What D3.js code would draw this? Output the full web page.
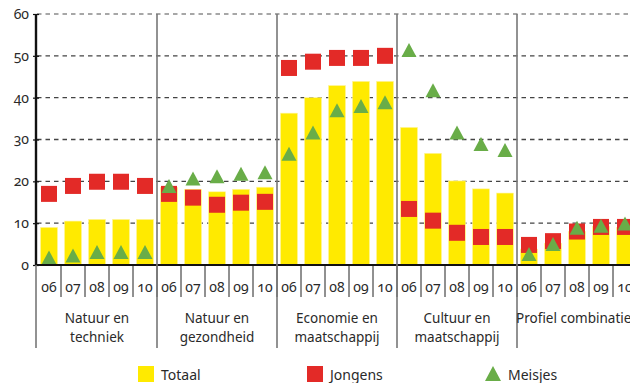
<!DOCTYPE html>
<html><head><meta charset="utf-8">
<script src="https://cdn.jsdelivr.net/npm/d3@7"></script>
<style>
html,body{margin:0;padding:0;background:#fff;overflow:hidden}
svg{display:block}
text{font-family:"Noto Sans","Open Sans",sans-serif;fill:#2a2a2a;font-variant-numeric:oldstyle-nums;font-feature-settings:"onum" 1}
</style></head>
<body>
<svg id="chart" width="630" height="383"></svg>
<script>
const groups = [["Natuur en","techniek"],["Natuur en","gezondheid"],["Economie en","maatschappij"],["Cultuur en","maatschappij"],["Profiel combinaties"]];
const years = ["06","07","08","09","10"];
const yTicks = [0,10,20,30,40,50,60];
const totaal  = [9.0,10.5,10.9,10.9,10.9, 18.5,18.1,17.5,18.1,18.6, 36.3,40.0,42.9,43.9,43.9, 32.9,26.7,20.1,18.2,17.2, 3.8,5.2,8.0,9.2,9.0];
const jongens = [17.0,18.9,19.9,19.9,18.9, 17.0,16.1,14.4,14.9,15.1, 47.1,48.6,49.5,49.5,50.0, 13.4,10.6,7.7,6.7,6.7, 4.8,5.7,8.0,9.1,9.1];
const meisjes = [1.8,2.3,3.1,3.1,3.1, 18.9,20.7,21.2,21.8,22.2, 26.6,31.7,37.0,38.0,38.9, 51.4,41.8,31.7,28.9,27.5, 2.6,5.0,8.9,9.4,9.9];
const legendLabels = ["Totaal","Jongens","Meisjes"];
const colors = {totaal:"#ffea00", jongens:"#e32a27", meisjes:"#69ad48"};

const svg = d3.select("#chart");
const x0 = 37, cell = 24;
const keys = [];
groups.forEach((g,gi)=>years.forEach(yr=>keys.push(gi+"-"+yr)));
const x = d3.scaleBand().domain(keys).range([x0, x0 + cell*keys.length]).paddingInner(0.29).paddingOuter(0.145);
const xCell = d3.scaleBand().domain(keys).range([x0, x0 + cell*keys.length]);
const y = d3.scaleLinear().domain([0,60]).range([265,14]);

// gridlines
svg.append("g").selectAll("line").data(yTicks.filter(d=>d>0)).join("line")
  .attr("x1",37).attr("x2",630).attr("y1",d=>y(d)).attr("y2",d=>y(d))
  .attr("stroke",(d)=>d===60?"#8a8a8a":"#444").attr("stroke-width",1.3).attr("stroke-dasharray","4.5,4");

// bars
const data = keys.map((k,i)=>({k, t:totaal[i], j:jongens[i], m:meisjes[i]}));
svg.append("g").selectAll("rect").data(data).join("rect")
  .attr("x",d=>x(d.k)).attr("width",x.bandwidth())
  .attr("y",d=>y(d.t)).attr("height",d=>y(0)-y(d.t))
  .attr("fill",colors.totaal).attr("stroke","#fff6a0").attr("stroke-width",0.6);

// jongens squares
const sq = 16;
svg.append("g").selectAll("rect").data(data).join("rect")
  .attr("x",d=>x(d.k)+x.bandwidth()/2-sq/2).attr("y",d=>y(d.j)-sq/2)
  .attr("width",sq).attr("height",sq).attr("fill",colors.jongens);

// meisjes triangles
const tw = 15, th = 14;
const tri = (cx,cy)=>`M${cx-tw/2},${cy+th/2}L${cx},${cy-th/2}L${cx+tw/2},${cy+th/2}Z`;
svg.append("g").selectAll("path").data(data).join("path")
  .attr("d",d=>tri(x(d.k)+x.bandwidth()/2, y(d.m)))
  .attr("fill",colors.meisjes);

// y axis
const yAxis = d3.axisLeft(y).tickValues(yTicks).tickSize(3).tickPadding(4).tickFormat(d3.format("d"));
const ya = svg.append("g").attr("transform","translate(36,0)").call(yAxis);
ya.select(".domain").remove();
ya.selectAll(".tick line").attr("stroke","#111").attr("stroke-width",1.2).attr("x2",3).attr("x1",-3);
ya.selectAll(".tick text").attr("font-size",14).style("font-family","'Noto Sans',sans-serif").attr("fill","#333");
svg.append("line").attr("x1",36).attr("x2",36).attr("y1",14).attr("y2",266).attr("stroke","#111").attr("stroke-width",2.4);

// year dividers
svg.append("g").selectAll("line").data(keys.slice(1)).join("line")
  .attr("x1",d=>xCell(d)).attr("x2",d=>xCell(d)).attr("y1",265).attr("y2",297)
  .attr("stroke","#222").attr("stroke-width",1);

// x axis line
svg.append("line").attr("x1",35).attr("x2",630).attr("y1",265).attr("y2",265).attr("stroke","#111").attr("stroke-width",2);

// year labels
svg.append("g").selectAll("text").data(keys).join("text")
  .attr("x",d=>xCell(d)+cell/2).attr("y",292).attr("text-anchor","middle")
  .attr("font-size",14).text(d=>d.split("-")[1]);

// group separators
const gStarts = groups.map((g,gi)=>xCell(gi+"-"+years[0]));
svg.append("g").selectAll("line").data(gStarts.slice(1)).join("line")
  .attr("x1",d=>d).attr("x2",d=>d).attr("y1",14).attr("y2",348)
  .attr("stroke","#777").attr("stroke-width",1.6);
svg.append("line").attr("x1",36).attr("x2",36).attr("y1",265).attr("y2",348).attr("stroke","#777").attr("stroke-width",1.6);

// group labels
groups.forEach((g,gi)=>{
  const cx = gStarts[gi] + cell*years.length/2;
  const t = svg.append("text").attr("text-anchor","middle").attr("font-size",13.5).attr("x",cx).attr("y",323);
  g.forEach((line,li)=>t.append("tspan").attr("x",cx).attr("dy",li===0?0:19).text(line));
});

// legend
const lg = svg.append("g");
const lx = [138,307,485];
lg.append("rect").attr("x",lx[0]).attr("y",366).attr("width",16).attr("height",16).attr("fill",colors.totaal);
lg.append("rect").attr("x",lx[1]).attr("y",366).attr("width",16).attr("height",16).attr("fill",colors.jongens);
lg.append("path").attr("d",`M${lx[2]},381L${lx[2]+8},366L${lx[2]+16},381Z`).attr("fill",colors.meisjes);
legendLabels.forEach((l,i)=>lg.append("text").attr("x",lx[i]+23).attr("y",380).attr("font-size",14).text(l));
</script>
</body></html>
